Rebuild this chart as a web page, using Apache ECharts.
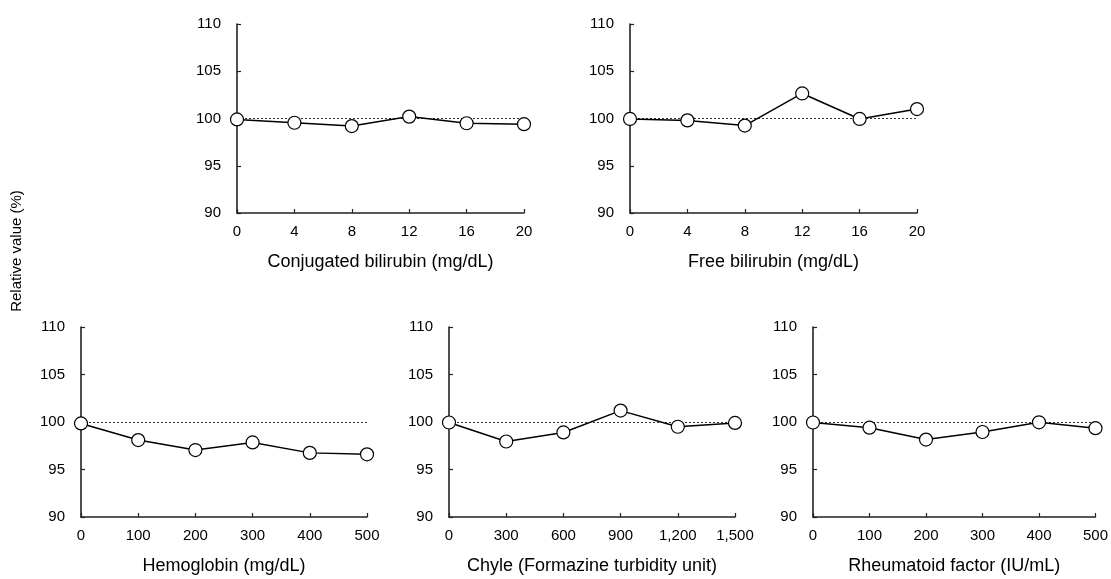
<!DOCTYPE html>
<html>
<head>
<meta charset="utf-8">
<script src="https://cdn.jsdelivr.net/npm/echarts@6/dist/echarts.min.js"></script>
<style>
  html, body { margin: 0; padding: 0; background: #fff; }
  #chart { width: 1111px; height: 579px; }
</style>
</head>
<body>
<div id="chart"></div>
<script>
// panel titles (x axis names)
const names = [
  'Conjugated bilirubin (mg/dL)',
  'Free bilirubin (mg/dL)',
  'Hemoglobin (mg/dL)',
  'Chyle (Formazine turbidity unit)',
  'Rheumatoid factor (IU/mL)'
]
// x values for each panel
const xConj = [0, 4, 8, 12, 16, 20]
const xFree = [0, 4, 8, 12, 16, 20]
const xHemo = [0, 100, 200, 300, 400, 500]
const xChyle = [0, 300, 600, 900, 1200, 1500]
const xRf = [0, 100, 200, 300, 400, 500]
// tick labels for x axes
const tickConj = ['0', '4', '8', '12', '16', '20']
const tickFree = ['0', '4', '8', '12', '16', '20']
const tickHemo = ['0', '100', '200', '300', '400', '500']
const tickChyle = ['0', '300', '600', '900', '1,200', '1,500']
const tickRf = ['0', '100', '200', '300', '400', '500']
// relative values (%)
const yConj = [99.9, 99.55, 99.2, 100.2, 99.5, 99.4]
const yFree = [99.95, 99.8, 99.25, 102.65, 99.95, 101.0]
const yHemo = [99.85, 98.1, 97.05, 97.85, 96.75, 96.6]
const yChyle = [99.95, 97.95, 98.9, 101.2, 99.5, 99.9]
const yRf = [99.95, 99.4, 98.15, 98.95, 99.97, 99.35]
const yTicks = [90, 95, 100, 105, 110]
const refValue = 100

const xs = [xConj, xFree, xHemo, xChyle, xRf]
const ticks = [tickConj, tickFree, tickHemo, tickChyle, tickRf]
const ys = [yConj, yFree, yHemo, yChyle, yRf]

const grids = [
  { left: 237, top: 24, width: 287, height: 189 },
  { left: 630, top: 24, width: 287, height: 189 },
  { left: 81, top: 327, width: 286, height: 190 },
  { left: 449, top: 327, width: 286, height: 190 },
  { left: 813, top: 327, width: 287, height: 190 }
]

const font = 'Liberation Sans, Arial, sans-serif'
const axisLine = { lineStyle: { color: '#222', width: 1.6 } }
const axisTick = { inside: true, length: 4, lineStyle: { color: '#222', width: 1.2 } }

const chart = echarts.init(document.getElementById('chart'))
chart.setOption({
  animation: false,
  grid: grids.map(g => Object.assign({ containLabel: false }, g)),
  xAxis: xs.map((x, i) => ({
    type: 'value',
    gridIndex: i,
    min: x[0],
    max: x[x.length - 1],
    interval: x[1] - x[0],
    name: names[i],
    nameLocation: 'middle',
    nameGap: 40,
    nameTextStyle: { fontFamily: font, fontSize: 18, color: '#000' },
    axisLine: axisLine,
    axisTick: axisTick,
    splitLine: { show: false },
    axisLabel: {
      margin: 11,
      fontFamily: font,
      fontSize: 15,
      color: '#000',
      formatter: v => {
        const k = x.indexOf(v)
        return k >= 0 ? ticks[i][k] : ''
      }
    }
  })),
  yAxis: xs.map((x, i) => ({
    type: 'value',
    gridIndex: i,
    min: yTicks[0],
    max: yTicks[yTicks.length - 1],
    interval: yTicks[1] - yTicks[0],
    axisLine: Object.assign({ show: true }, axisLine),
    axisTick: Object.assign({ show: true }, axisTick),
    splitLine: { show: false },
    axisLabel: { margin: 16, fontFamily: font, fontSize: 15, color: '#000' }
  })),
  series: xs.map((x, i) => ({
    type: 'line',
    xAxisIndex: i,
    yAxisIndex: i,
    data: x.map((v, k) => [v, ys[i][k]]),
    symbol: 'circle',
    symbolSize: 13,
    lineStyle: { color: '#000', width: 1.5 },
    itemStyle: { color: '#fff', borderColor: '#000', borderWidth: 1.2 },
    z: 3,
    markLine: {
      silent: true,
      symbol: 'none',
      label: { show: false },
      lineStyle: { color: '#333', width: 1, type: [2, 2] },
      data: [[{ coord: [x[0], refValue] }, { coord: [x[x.length - 1], refValue] }]],
      z: 1
    }
  })),
  graphic: [{
    type: 'text',
    x: 17,
    y: 251,
    rotation: Math.PI / 2,
    style: {
      text: 'Relative value (%)',
      fontFamily: font,
      fontSize: 15,
      fill: '#000',
      textAlign: 'center',
      textVerticalAlign: 'middle'
    }
  }]
})
</script>
</body>
</html>
